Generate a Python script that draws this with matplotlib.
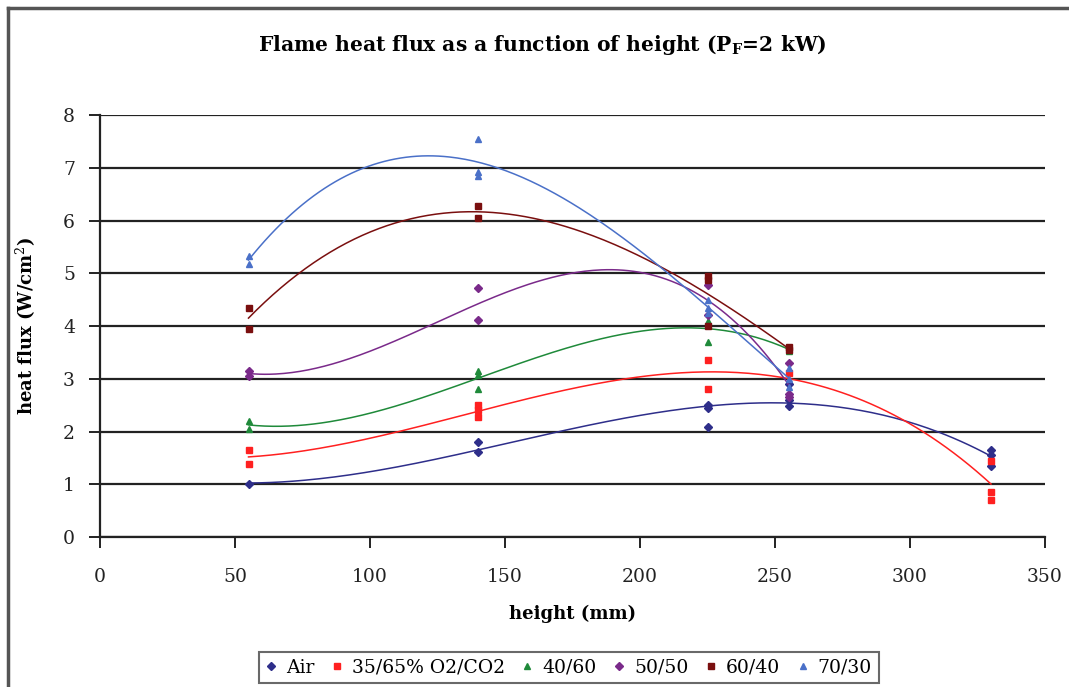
import numpy as np
import matplotlib
matplotlib.use("Agg")
from matplotlib import pyplot as plt
from matplotlib.lines import Line2D

# measured points, height in mm, heat flux in W/cm2
air_x = [55, 140, 140, 225, 225, 225, 255, 255, 255, 330, 330, 330]
air_y = [1.0, 1.8, 1.62, 2.5, 2.45, 2.08, 2.9, 2.6, 2.48, 1.65, 1.55, 1.35]

o35_x = [55, 55, 140, 140, 140, 225, 225, 255, 330, 330, 330]
o35_y = [1.65, 1.38, 2.5, 2.4, 2.28, 3.35, 2.8, 3.1, 1.45, 0.85, 0.7]

o40_x = [55, 55, 140, 140, 140, 225, 225, 225, 255, 255]
o40_y = [2.2, 2.05, 3.15, 3.08, 2.8, 4.1, 4.05, 3.7, 3.6, 3.52]

o50_x = [55, 55, 140, 140, 225, 225, 255, 255, 255]
o50_y = [3.15, 3.05, 4.72, 4.12, 4.78, 4.2, 3.3, 2.72, 2.65]

o60_x = [55, 55, 140, 140, 225, 225, 225, 255, 255]
o60_y = [4.35, 3.95, 6.28, 6.05, 4.95, 4.88, 4.0, 3.6, 3.55]

o70_x = [55, 55, 140, 140, 140, 225, 225, 225, 255, 255, 255]
o70_y = [5.32, 5.18, 7.55, 6.92, 6.85, 4.5, 4.35, 4.25, 3.2, 3.0, 2.85]

series = [
    ("Air", air_x, air_y, "#2e2e8a", "D", 4),
    ("35/65% O2/CO2", o35_x, o35_y, "#ff2020", "s", 4.5),
    ("40/60", o40_x, o40_y, "#1f8a3a", "^", 5),
    ("50/50", o50_x, o50_y, "#7a2a8a", "D", 4),
    ("60/40", o60_x, o60_y, "#7a0f0f", "s", 4.5),
    ("70/30", o70_x, o70_y, "#4a70c8", "^", 5),
]

plt.rcParams['font.family'] = ['DejaVu Serif']
plt.rcParams['mathtext.fontset'] = 'dejavuserif'

fig = plt.figure(figsize=(10.69, 6.87), dpi=100)
ax = fig.add_axes([100 / 1069, 1 - 537 / 687, 945 / 1069, 422 / 687])

for name, xs, ys, col, mk, ms in series:
    xs = np.array(xs, float)
    ys = np.array(ys, float)
    ax.plot(xs, ys, linestyle="none", marker=mk, color=col, markersize=ms,
            label=name)
    # excel style polynomial trendline
    c = np.polyfit(xs, ys, 3)
    xx = np.linspace(xs.min(), xs.max(), 200)
    ax.plot(xx, np.polyval(c, xx), color=col, linewidth=1.1)

ax.set_xlim(0, 350)
ax.set_ylim(0, 8)
ax.set_xticks(range(0, 351, 50))
ax.set_yticks(range(0, 9))
ax.yaxis.grid(True, color="#222222", linewidth=1.6)
ax.set_axisbelow(True)
for s in ["top", "right"]:
    ax.spines[s].set_visible(False)
ax.spines["left"].set_linewidth(1.6)
ax.spines["bottom"].set_linewidth(1.6)
ax.spines["left"].set_color("#222222")
ax.spines["bottom"].set_color("#222222")
ax.tick_params(axis="both", direction="out", length=8, width=1.4,
               labelsize=13.5, colors="#222222")
ax.tick_params(axis="x", pad=14)
ax.tick_params(axis="y", pad=10)

ax.set_xlabel("height (mm)", fontsize=13, fontweight="bold", labelpad=14)
ax.set_ylabel("heat flux (W/cm$^2$)", fontsize=13, fontweight="bold",
              labelpad=18)
fig.text(0.507, 1 - 45 / 687, "Flame heat flux as a function of height (P$_\\mathregular{F}$=2 kW)",
         ha="center", va="center", fontsize=14.6, fontweight="bold")

leg = fig.legend(loc="lower center", bbox_to_anchor=(0.532, -0.008), ncol=6,
                 fontsize=13.5, frameon=True, fancybox=False, handlelength=0.6,
                 handletextpad=0.5, columnspacing=0.9, markerscale=0.9,
                 borderpad=0.35)
leg.get_frame().set_edgecolor("#444444")
leg.get_frame().set_linewidth(1.5)

# outer chart border (top and left visible)
bx = 7.5 / 1069
by = 1 - 7.5 / 687
fig.add_artist(Line2D([bx, 1.0], [by, by], transform=fig.transFigure,
                      color="#555555", linewidth=2.5))
fig.add_artist(Line2D([bx, bx], [0, by], transform=fig.transFigure,
                      color="#555555", linewidth=2.5))

fig.savefig("out.png", dpi=100)
